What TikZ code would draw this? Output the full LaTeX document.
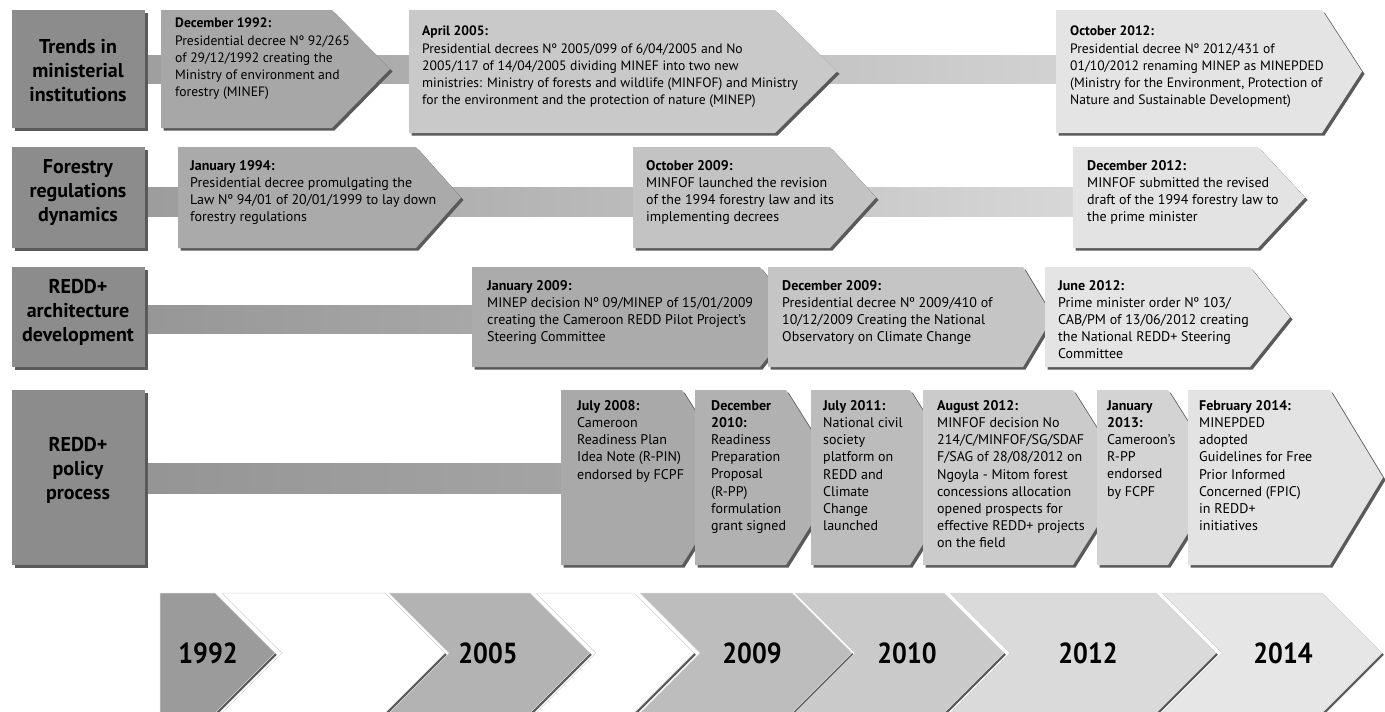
\documentclass[tikz,border=0pt]{standalone}
\usepackage{fontspec}
\setmainfont{PT Sans}
\newfontfamily\cnd[FakeStretch=0.9]{PT Sans}
\usetikzlibrary{calc}
\definecolor{lab}{HTML}{8C8C8C}
\definecolor{shd}{HTML}{5A5A5A}
\definecolor{ra}{HTML}{A7A7A7}
\definecolor{rb}{HTML}{C9C9C9}
\definecolor{rc}{HTML}{E4E4E4}
\definecolor{qa}{HTML}{AAAAAA}
\definecolor{qb}{HTML}{C3C3C3}
\definecolor{qc}{HTML}{E3E3E3}
\definecolor{pa}{HTML}{ABABAB}
\definecolor{pb}{HTML}{C5C5C5}
\definecolor{pc}{HTML}{E4E4E4}
\definecolor{sa}{HTML}{A9A9A9}
\definecolor{sb}{HTML}{B1B1B1}
\definecolor{sc}{HTML}{BCBCBC}
\definecolor{sd}{HTML}{CBCBCB}
\definecolor{se}{HTML}{D3D3D3}
\definecolor{sf}{HTML}{E3E3E3}
\definecolor{ca}{HTML}{9B9B9B}
\definecolor{cb}{HTML}{B3B3B3}
\definecolor{cc}{HTML}{BDBDBD}
\definecolor{cd}{HTML}{CACACA}
\definecolor{ce}{HTML}{DADADA}
\definecolor{cf}{HTML}{E6E6E6}
\newcommand{\abox}[6]{%
  \fill[shd,shift={(2.5,2.5)}] (#1,#2) -- (#3,#2) -- ({#3+#5},{(#2+#4)/2}) -- (#3,#4) -- (#1,#4) -- cycle;
  \fill[#6] (#1,#2) -- (#3,#2) -- ({#3+#5},{(#2+#4)/2}) -- (#3,#4) -- (#1,#4) -- cycle;
}
\newcommand{\lbox}[2]{%
  \fill[shd,shift={(2.5,2.5)}] (12,#1) rectangle (145,#2);
  \fill[lab] (12,#1) rectangle (145,#2);
}
\newcommand{\chev}[4]{%
  \fill[shd,shift={(1.8,1.8)}] (#1,593) -- (#2,593) -- ({#2+60},653) -- (#2,713) -- (#1,713) -- ({#1+#4},653) -- cycle;
  \filldraw[#3,draw=gray!30,line width=0.5pt] (#1,593) -- (#2,593) -- ({#2+60},653) -- (#2,713) -- (#1,713) -- ({#1+#4},653) -- cycle;
}
\tikzset{
  lbl/.style={align=center, inner sep=0pt, font=\bfseries\fontsize{20}{24}\selectfont},
  txta/.style={anchor=north west, align=left, inner sep=0pt, font=\fontsize{13.6}{17.2}\selectfont},
  txtb/.style={anchor=north west, align=left, inner sep=0pt, font=\fontsize{14}{17.2}\selectfont},
  yr/.style={inner sep=0pt, font=\cnd\bfseries\fontsize{29}{29}\selectfont},
}
\begin{document}
\begin{tikzpicture}[x=1pt,y=-1pt]
\useasboundingbox (0,0) rectangle (1385,712);
% ---------- row 1
\shade[left color=ra!95!black, right color=rc!92!black] (145,55) rectangle (1060,83);
\lbox{10}{128}
\abox{161}{10}{332}{128}{58}{ra}
\abox{409}{10}{775}{133}{62}{rb}
\abox{1056}{10}{1322}{133}{40}{rc}
\node[lbl] (l1) at (78,71) {Trends in\\ministerial\\institutions};
\node[txta] (t11) at (175,18) {\textbf{December 1992:}\\Presidential decree Nº 92/265\\of 29/12/1992 creating the\\Ministry of environment and\\forestry (MINEF)};
\node[txta] (t12) at (422,26) {\textbf{April 2005:}\\Presidential decrees Nº 2005/099 of 6/04/2005 and No\\2005/117 of 14/04/2005 dividing MINEF into two new\\ministries: Ministry of forests and wildlife (MINFOF) and Ministry\\for the environment and the protection of nature (MINEP)};
\node[txta] (t13) at (1070,26) {\textbf{October 2012:}\\Presidential decree Nº 2012/431 of\\01/10/2012 renaming MINEP as MINEPDED\\(Ministry for the Environment, Protection of\\Nature and Sustainable Development)};
% ---------- row 2
\shade[left color=qa!92!black, right color=qc!95!black] (145,187) rectangle (1075,216);
\lbox{147}{248}
\abox{178}{147}{416}{248}{45}{qa}
\abox{633}{147}{830}{248}{46}{qb}
\abox{1073}{147}{1258}{248}{47}{qc}
\node[lbl] (l2) at (78,193) {Forestry\\regulations\\dynamics};
\node[txtb] (t21) at (190,160) {\textbf{January 1994:}\\Presidential decree promulgating the\\Law Nº 94/01 of 20/01/1999 to lay down\\forestry regulations};
\node[txtb] (t22) at (646,160) {\textbf{October 2009:}\\MINFOF launched the revision\\of the 1994 forestry law and its\\implementing decrees};
\node[txtb] (t23) at (1087,160) {\textbf{December 2012:}\\MINFOF submitted the revised\\draft of the 1994 forestry law to\\the prime minister};
% ---------- row 3
\shade[left color=pa!88!black, right color=pa!98!black] (145,305) rectangle (480,333);
\lbox{267}{367}
\abox{472}{267}{760}{367}{40}{pa}
\abox{768}{267}{1023}{367}{30}{pb}
\abox{1045}{267}{1250}{367}{40}{pc}
\node[lbl] (l3) at (78,312) {REDD+\\architecture\\development};
\node[txtb] (t31) at (487,280) {\textbf{January 2009:}\\MINEP decision Nº 09/MINEP of 15/01/2009\\creating the Cameroon REDD Pilot Project’s\\Steering Committee};
\node[txtb] (t32) at (782,280) {\textbf{December 2009:}\\Presidential decree Nº 2009/410 of\\10/12/2009 Creating the National\\Observatory on Climate Change};
\node[txtb] (t33) at (1058,280) {\textbf{June 2012:}\\Prime minister order Nº 103/\\CAB/PM of 13/06/2012 creating\\the National REDD+ Steering\\Committee};
% ---------- row 4
\shade[left color=sa!88!black, right color=sa!97!black] (145,463) rectangle (565,493);
\lbox{390}{565}
\abox{561}{390}{682}{565}{55}{sa}
\abox{695}{390}{786}{565}{55}{sb}
\abox{811}{390}{910}{565}{55}{sc}
\abox{923}{390}{1073}{565}{55}{sd}
\abox{1097}{390}{1168}{565}{55}{se}
\abox{1188}{390}{1330}{565}{53}{sf}
\node[lbl] (l4) at (78,470) {REDD+\\policy\\process};
\node[txtb] (t41) at (577,400) {\textbf{July 2008:}\\Cameroon\\Readiness Plan\\Idea Note (R-PIN)\\endorsed by FCPF};
\node[txtb] (t42) at (711,400) {\textbf{December}\\\textbf{2010:}\\Readiness\\Preparation\\Proposal\\(R-PP)\\formulation\\grant signed};
\node[txtb] (t43) at (823,400) {\textbf{July 2011:}\\National civil\\society\\platform on\\REDD and\\Climate\\Change\\launched};
\node[txtb] (t44) at (937,400) {\textbf{August 2012:}\\MINFOF decision No\\214/C/MINFOF/SG/SDAF\\F/SAG of 28/08/2012 on\\Ngoyla - Mitom forest\\concessions allocation\\opened prospects for\\effective REDD+ projects\\on the field};
\node[txtb] (t45) at (1107,400) {\textbf{January}\\\textbf{2013:}\\Cameroon’s\\R-PP\\endorsed\\by FCPF};
\node[txtb] (t46) at (1199,400) {\textbf{February 2014:}\\MINEPDED\\adopted\\Guidelines for Free\\Prior Informed\\Concerned (FPIC)\\in REDD+\\initiatives};
% ---------- year chevrons
\chev{160}{215}{ca}{0}
\chev{222}{385}{white}{60}
\chev{389}{530}{cb}{60}
\chev{536}{634}{white}{60}
\chev{640}{792}{cc}{60}
\chev{795}{944}{cd}{60}
\chev{950}{1156}{ce}{60}
\chev{1162}{1322}{cf}{60}
\node[yr] (y1) at (208,653) {1992};
\node[yr] (y2) at (488,653) {2005};
\node[yr] (y3) at (752,653) {2009};
\node[yr] (y4) at (907,653) {2010};
\node[yr] (y5) at (1088,653) {2012};
\node[yr] (y6) at (1283,653) {2014};
\end{tikzpicture}
\end{document}
